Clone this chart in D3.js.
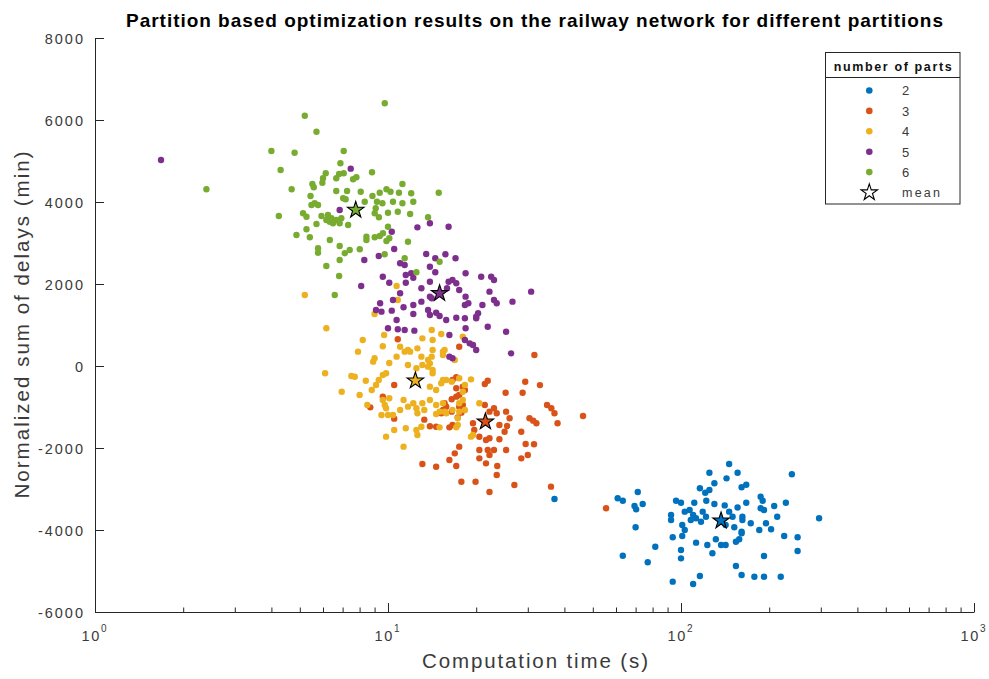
<!DOCTYPE html>
<html>
<head>
<meta charset="utf-8">
<script src="https://cdn.jsdelivr.net/npm/d3@7/dist/d3.min.js"></script>
<style>
  html, body { margin: 0; padding: 0; background: #fff; }
  svg { display: block; font-family: "Liberation Sans", Arial, Helvetica, sans-serif; }
</style>
</head>
<body>
<svg id="chart" width="989" height="679"></svg>
<script>
// ---------------- data ----------------
const chartTitle = "Partition based optimization results on the railway network for different partitions";
const xLabel = "Computation time (s)";
const yLabel = "Normalized sum of delays (min)";
const legendTitle = "number of parts";
const parts = ["2", "3", "4", "5", "6"];
const meanLabel = "mean";
const partColors = ["#0072BD", "#D95319", "#EDB120", "#7E2F8E", "#77AC30"];
const xDomain = [1, 1000];
const yDomain = [-6000, 8000];
const xTickValues = [1, 10, 100, 1000];
const xTickExponents = ["0", "1", "2", "3"];
const yTickValues = [-6000, -4000, -2000, 0, 2000, 4000, 6000, 8000];
const yTickLabels = ["-6000", "-4000", "-2000", "0", "2000", "4000", "6000", "8000"];

// [computation time (s), normalized sum of delays (min)]
const points2 = [
  [37,-3244],[146,-2390],[125,-2602],[156,-2602],[143,-2740],[239,-2641],
  [130,-2861],[116,-2983],[121,-3090],[125,-3024],[161,-2959],[167,-2895],
  [71.2,-3073],[60.8,-3227],[63.3,-3286],[69.4,-3415],[74,-3366],[70.3,-3496],
  [70,-3934],[63.3,-4627],[77,-4788],[81.7,-4407],
  [96.2,-3286],[100,-3334],[111,-3334],[122,-3286],[130,-3366],[141,-3400],[156,-3450],[167,-3334],[187,-3188],[190,-3286],[208,-3415],[228,-3334],
  [103,-3553],[107,-3512],[110,-3634],[112.5,-3715],[108,-3756],[118.6,-3553],[121.7,-3675],[117,-3797],[92.5,-3634],[92.5,-3756],[101,-3878],[103,-4000],
  [146,-3553],[150,-3675],[142,-3878],[152,-3934],[162,-3675],[162,-3756],[161,-4041],[173,-3837],[187,-3471],[192,-3512],[185,-4000],[195,-3837],[213,-3675],[203,-3983],[225,-4146],[250,-4178],[296,-3715],
  [93.7,-4178],[101,-4146],[112.6,-4308],[123,-4366],[131.5,-4227],[137,-4366],[142,-4366],[154,-4285],[158,-4227],[161,-4081],[128,-4568],[100,-4488],[100,-4691],[192,-4634],[250,-4512],[154,-4878],[161,-5097],[178,-5139],[192,-5139],[219,-5139],[116,-5122],[110,-5317],[93.7,-5260]
];
const points3 = [
  [10.8,651],[31.6,268],[17.5,471],
  [10.5,-463],[9.6,-748],[8.7,-1008],[10.5,-1284],[13.3,-1309],[13.9,-1471],[14.6,-1480],[15.2,-1154],[16.2,-1496],[16.6,-1439],[17.3,-1252],[17.5,-992],[18.0,-951],[17.1,-748],[17.5,-707],[17.1,-544],[18.3,-585],[17.1,-276],[16.6,-342],[18.0,-504],[15.4,-1073],[15.8,-992],
  [29.4,-383],[33,-466],[21.9,-358],[21.4,-439],[25.2,-651],[28.8,-651],[34.9,-951],[36.1,-1032],[37,-1154],[37.9,-1398],[46.3,-1219],[30.4,-1276],[31.3,-1333],[32.1,-1398],[28.5,-1602],[29.5,-1902],[31.5,-1910],[30,-2171],[28.5,-2252],[27,-2902],[36,-2943],
  [25.3,-1114],[26,-1276],[25.5,-1463],[24,-1439],[23,-1032],[23.5,-1154],[22.2,-1114],[21.4,-951],[19.5,-1398],[19.7,-1561],[20.5,-1724],[21.6,-1805],[22.2,-1764],[24,-1788],[25,-1602],
  [20.5,-2049],[21.9,-2049],[23,-2049],[25.3,-2049],[21.6,-2374],[23.6,-2439],[23.5,-2659],[20.5,-2252],[22.2,-2171],[17.5,-1967],[16.9,-2130],[16.2,-2293],[17.1,-2439],[14.6,-2456],[13.1,-2391],[17.8,-2822],[19.9,-2822],[22.2,-3073],
  [15.6,-910],[17.8,-1138],[16.5,-1114],[16.5,-812],[55.5,-3471]
];
const points4 = [
  [5.2,1732],[6.16,919],[8.2,634],[9.7,756],[9.6,480],[11.0,471],[11.7,390],[12.6,431],[13.1,675],[14.1,878],[14.2,634],[15.2,780],[15.6,390],[13.0,228],[14.1,228],[15.4,268],[18.0,715],[7.9,350],[9.0,188],[10.7,1951],[10.8,1610],[9.0,1268],
  [6.1,-178],[6.95,-627],[7.5,-244],[7.7,-261],[8.0,-707],[8.4,-358],[8.8,-585],[8.9,106],[9.3,-342],[9.6,-220],[9.85,-178],[9.1,-463],
  [10.1,73],[10.7,228],[11.7,24],[11.4,350],[11.9,350],[13.1,24],[13.7,146],[13.9,65],[14.2,-98],
  [8.5,-951],[9.6,-829],[10.1,-788],[9.75,-951],[9.85,-1032],[9.5,-1195],[10.0,-1195],[10.4,-1195],
  [11.3,-829],[11.0,-1073],[11.7,-992],[12.2,-910],[12.5,-1032],[12.6,-1154],[13.1,-910],[13.3,-1073],[13.9,-829],[14.6,-951],[15.4,-910],[15.8,-1154],
  [10.5,-1561],[11.5,-1520],[12.5,-1561],[12.6,-1683],[13.0,-1480],[9.85,-1723],[11.3,-1967],
  [12.5,-56],[13.7,-16],[14.2,-178],[15.4,-342],[15.8,-342],[16.5,-382],[17.5,-300],[19.2,-325],[13.9,-504],[14.6,-585],[15.2,-422],
  [15.4,350],[16.9,146],[14.2,390],
  [18.0,-627],[18.0,-829],[17.5,-910],[18.3,-1073],[19.2,-1723],[17.3,-1439],
  [20.5,-910],[19.5,-1683],[18.3,-463],[15.0,-1114],[14.6,-1171],[15.6,-1114],[16.6,-1073],[17.5,-1114],[17.3,-1276],[17.1,-1496],[15.0,-1496]
];
const points5 = [
  [1.68,5024],[7.46,4813],[6.84,3805],[10.3,3276],[12.6,3382],[13.9,3480],[16.1,3398],[13.5,2732],[14.5,2627],[15.7,2724],[17.0,2627],[9.3,2683],[11.0,2505],[11.4,2463],[13.9,2422],[8.3,2585],[10.5,2855],[11.5,2220],[12.0,2261],[12.2,2150],[11.5,2030],[9.6,2178],[10.1,2032],[8.1,1951],[14.5,2285],
  [11.0,1773],[13.0,1895],[13.9,2056],[14.1,1651],[16.1,2056],[16.6,2098],[17.1,2017],[15.9,1895],[17.5,1854],[18.4,2261],[20.8,2178],[22.5,2178],[23.0,2098],[18.4,1692],[18.8,1529],[18.3,1488],[22.2,1813],[23.0,1610],[23.5,1529],[26.6,1569],[21.0,1488],[20.0,1203],[20.3,1285],[21.9,959],[25.3,837],[30.8,1813],
  [9.4,1529],[9.1,1366],[9.5,1325],[10.3,1350],[11.3,1432],[12.2,1488],[13.0,1569],[13.9,1692],[10.4,1610],
  [12.2,1268],[13.7,1366],[13.9,1244],[14.6,1300],[15.0,1220],[15.8,1122],[17.1,1178],[18.3,1163],[20.0,1163],
  [10.7,1122],[10.0,919],[10.8,895],[11.4,878],[12.3,862],[16.2,756],[18.4,919],[18.3,634],[19.0,553],[20.0,390],[26.3,309],[16.2,228],[19.5,512],[16.6,188]
];
const points6 = [
  [6.88,4944],[6.13,4700],[6.00,4578],[5.97,4471],[6.81,4683],[7.06,4700],[6.66,4578],[7.80,4602],[7.60,4554],[8.82,4724],[4.69,4310],[5.52,4439],[5.58,4359],[6.66,4268],[7.25,4268],[8.07,4251],[7.03,4090],[5.44,4146],[5.62,3968],[5.77,3927],[5.48,3927],
  [8.85,4146],[9.37,4227],[9.88,4310],[10.2,4251],[10.9,4227],[11.2,4439],[12.0,4212],[8.33,4007],[9.17,4007],[9.57,3968],[10.4,4007],[11.2,3968],[12.2,4007],[7.17,4066],
  [5.13,3724],[5.27,3641],[5.93,3659],[6.24,3683],[6.41,3602],[6.33,3520],[6.66,3561],[6.93,3602],[6.84,3480],[7.31,3439],[6.49,3480],[6.16,3561],
  [9.08,3846],[9.01,3724],[10.0,3739],[10.8,3763],[11.9,3707],[9.31,3627],[5.70,3463],[5.27,3334],[4.87,3195],[5.41,3139],[6.33,3073],[5.77,2871],[5.77,2764],
  [6.84,2927],[7.40,2829],[7.12,2749],[6.84,2585],[6.16,2439],[6.81,2195],[8.01,2846],[8.44,3073],[8.44,3154],[9.01,3139],[9.37,3171],[9.61,3237],[9.88,3049],[10.0,3398],[9.74,2724],[10.1,3115],[11.7,3032],[6.58,1732],[11.4,2627],
  [2.4,4310],[5.2,6105],[5.7,5715],[4.0,5244],[4.8,5203],[4.3,4780],[4.24,3658],
  [9.75,6407],[7.06,5244],[14.9,4227],[13.7,3627],[15.0,2544],[12.5,2285]
];
const partPoints = [points2, points3, points4, points5, points6];
// mean of each partition [time, delay]
const meanTimes = [137, 21.5, 12.4, 15.0, 7.76];
const meanDelays = [-3773, -1358, -358, 1773, 3805];

// ---------------- drawing ----------------
const svg = d3.select("#chart");
const axisColor = "#262626";
const textColor = "#3a3a3a";

svg.append("rect").attr("width", 989).attr("height", 679).attr("fill", "#fff");

const x = d3.scaleLog().domain(xDomain).range([95, 974]);
const y = d3.scaleLinear().domain(yDomain).range([612, 38]);

// minor log ticks
const minorTicks = [];
for (let d = 1; d < 1000; d *= 10) for (let k = 2; k <= 9; k++) minorTicks.push(d * k);

const gx = svg.append("g").attr("transform", "translate(0,612)");
gx.call(d3.axisBottom(x).tickValues(xTickValues).tickSizeInner(-9).tickSizeOuter(0).tickFormat(""));
gx.append("g").call(d3.axisBottom(x).tickValues(minorTicks).tickSizeInner(-4.5).tickSizeOuter(0).tickFormat(""))
  .call(g => g.select(".domain").remove());
gx.selectAll("path, line").attr("stroke", axisColor).attr("stroke-width", 1);

// x tick labels 10^n
xTickValues.forEach((v, i) => {
  const t = gx.append("text")
    .attr("x", x(v) - 1)
    .attr("y", 29)
    .attr("text-anchor", "middle")
    .attr("fill", textColor)
    .style("font-size", "14.5px")
    .style("letter-spacing", "1.6px");
  t.append("tspan").text("10");
  t.append("tspan").attr("dy", -9).style("font-size", "10px").style("letter-spacing", "0px").text(xTickExponents[i]);
});

const gy = svg.append("g").attr("transform", "translate(95,0)");
gy.call(d3.axisLeft(y).tickValues(yTickValues).tickSizeInner(-9).tickSizeOuter(0).tickPadding(10)
  .tickFormat((d, i) => yTickLabels[i]));
gy.selectAll("path, line").attr("stroke", axisColor).attr("stroke-width", 1);
gy.selectAll("text")
  .attr("fill", textColor)
  .style("font-family", "'Liberation Sans', Arial, sans-serif")
  .style("font-size", "14.5px")
  .style("letter-spacing", "2px")
  .attr("dy", "0.38em");

// points
const pointLayer = svg.append("g");
partPoints.forEach((pts, i) => {
  pointLayer.append("g").selectAll("circle").data(pts).join("circle")
    .attr("cx", d => x(d[0]))
    .attr("cy", d => y(d[1]))
    .attr("r", 3.2)
    .attr("fill", partColors[i]);
});

// means as pentagrams
const star = d3.symbol().type(d3.symbolStar).size(84);
svg.append("g").selectAll("path").data(meanTimes).join("path")
  .attr("d", star)
  .attr("transform", (d, i) => `translate(${x(d)},${y(meanDelays[i])})`)
  .attr("fill", (d, i) => partColors[i])
  .attr("stroke", "#000")
  .attr("stroke-width", 1.1)
  .attr("stroke-linejoin", "miter");

// title
svg.append("text")
  .attr("x", 534.5).attr("y", 27)
  .attr("text-anchor", "middle")
  .attr("fill", "#000")
  .style("font-size", "19px")
  .style("font-weight", "bold")
  .attr("textLength", 817)
  .attr("lengthAdjust", "spacing")
  .text(chartTitle);

// axis labels
svg.append("text")
  .attr("x", 535).attr("y", 668)
  .attr("text-anchor", "middle")
  .attr("fill", textColor)
  .style("font-size", "20.5px")
  .attr("textLength", 226)
  .attr("lengthAdjust", "spacing")
  .text(xLabel);

svg.append("text")
  .attr("transform", "translate(29,325) rotate(-90)")
  .attr("text-anchor", "middle")
  .attr("fill", textColor)
  .style("font-size", "20.5px")
  .attr("textLength", 347)
  .attr("lengthAdjust", "spacing")
  .text(yLabel);

// legend
const lg = svg.append("g");
lg.append("rect").attr("x", 825.5).attr("y", 52.5).attr("width", 134.5).attr("height", 151.5)
  .attr("fill", "#fff").attr("stroke", axisColor).attr("stroke-width", 1);
lg.append("line").attr("x1", 825.5).attr("x2", 960).attr("y1", 77.5).attr("y2", 77.5)
  .attr("stroke", axisColor).attr("stroke-width", 1);
lg.append("text").attr("x", 892.7).attr("y", 71).attr("text-anchor", "middle")
  .attr("fill", "#111").style("font-size", "12.5px").style("font-weight", "bold")
  .attr("textLength", 118).attr("lengthAdjust", "spacing")
  .text(legendTitle);
const rowY = i => 90.5 + i * 20.4;
parts.forEach((p, i) => {
  lg.append("circle").attr("cx", 869.3).attr("cy", rowY(i)).attr("r", 3.3).attr("fill", partColors[i]);
  lg.append("text").attr("x", 902).attr("y", rowY(i)).attr("dy", "0.37em")
    .attr("fill", textColor).style("font-size", "13px").style("letter-spacing", "1.2px").text(p);
});
lg.append("path").attr("d", star)
  .attr("transform", `translate(869.3,${rowY(5)})`)
  .attr("fill", "#fff").attr("stroke", "#000").attr("stroke-width", 1.1);
lg.append("text").attr("x", 902).attr("y", rowY(5)).attr("dy", "0.37em")
  .attr("fill", textColor).style("font-size", "12.5px")
  .attr("textLength", 38).attr("lengthAdjust", "spacing").text(meanLabel);
</script>
</body>
</html>
